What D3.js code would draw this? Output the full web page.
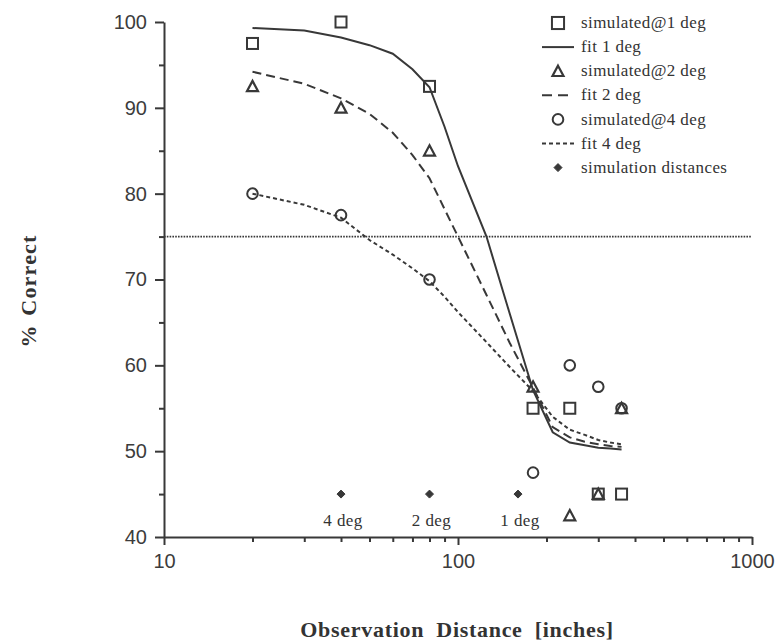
<!DOCTYPE html>
<html><head><meta charset="utf-8">
<script src="https://cdn.jsdelivr.net/npm/d3@7"></script>
<style>body{margin:0;background:#fff} svg{display:block}</style>
</head><body><svg id="c" width="783" height="644"></svg>
<script>
// ---- data ----
const distances = [20, 40, 80, 180, 240, 300, 360];
const sim1 = [97.5, 100, 92.5, 55, 55, 45, 45];
const sim2 = [92.5, 90, 85, 57.5, 42.5, 45, 55];
const sim4 = [80, 77.5, 70, 47.5, 60, 57.5, 55];
const fitX = [20, 30, 40, 50, 60, 70, 80, 90, 100, 125, 150, 180, 210, 240, 270, 300, 330, 360];
const fit1 = [99.3, 99.0, 98.2, 97.3, 96.3, 94.5, 92.4, 87.8, 83.2, 75.0, 66.0, 57.1, 52.2, 51.0, 50.7, 50.4, 50.3, 50.2];
const fit2 = [94.2, 92.8, 91.1, 89.3, 87.1, 84.5, 81.8, 78.2, 75.0, 68.2, 62.6, 57.4, 52.8, 51.6, 51.1, 50.8, 50.6, 50.5];
const fit4 = [80.0, 78.7, 77.2, 74.6, 72.9, 71.3, 69.8, 68.0, 66.2, 62.7, 59.8, 57.0, 54.0, 52.5, 51.9, 51.3, 51.0, 50.8];
const simDistX = [40, 80, 160];
const simDistY = [45, 45, 45];
const simDistLabels = ["4 deg", "2 deg", "1 deg"];
const threshold = 75;
const xTicksMajor = [10, 100, 1000];
const xTicksMinor = [20, 30, 40, 50, 60, 70, 80, 90, 200, 300, 400, 500, 600, 700, 800, 900];
const yTicksMajor = [40, 50, 60, 70, 80, 90, 100];
const yTicksMinor = [45, 55, 65, 75, 85, 95];
const legendLabels = ["simulated@1 deg", "fit 1 deg", "simulated@2 deg", "fit 2 deg", "simulated@4 deg", "fit 4 deg", "simulation distances"];
const legendKinds = ["square", "solid", "triangle", "dashed", "circle", "dotted", "diamond"];
const xTitle = "Observation Distance [inches]";
const yTitle = "% Correct";

// ---- drawing ----
const INK = "#383838";
const svg = d3.select("#c");
const x = d3.scaleLog().domain([10, 1000]).range([164, 752]);
const y = d3.scaleLinear().domain([40, 100]).range([537, 22]);

const dashes = {solid: null, dashed: "9,5", dotted: "4,3"};

function styleAxis(g) {
  g.selectAll("path.domain").attr("stroke", INK).attr("stroke-width", 2);
  g.selectAll(".tick line").attr("stroke", INK).attr("stroke-width", 2);
  g.selectAll(".tick text").attr("fill", "#3c3c3c").attr("font-family", "'Liberation Sans', Arial, sans-serif").attr("font-size", 20);
}

// threshold line
svg.append("line")
  .attr("x1", x(10)).attr("x2", x(1000))
  .attr("y1", y(threshold)).attr("y2", y(threshold))
  .attr("stroke", INK).attr("stroke-width", 1.6).attr("stroke-dasharray", "1.6,1.2");

// axes
const gx = svg.append("g").attr("transform", `translate(0,${y(40)})`)
  .call(d3.axisBottom(x).tickValues(xTicksMajor).tickSize(8).tickPadding(9).tickSizeOuter(0).tickFormat(d3.format("d")));
styleAxis(gx);
const gxm = svg.append("g").attr("transform", `translate(0,${y(40)})`)
  .call(d3.axisBottom(x).tickValues(xTicksMinor).tickSize(5).tickFormat(""));
gxm.select("path.domain").remove(); styleAxis(gxm);

const gy = svg.append("g").attr("transform", `translate(${x(10)},0)`)
  .call(d3.axisLeft(y).tickValues(yTicksMajor).tickSize(9).tickPadding(8).tickSizeOuter(0));
styleAxis(gy);
const gym = svg.append("g").attr("transform", `translate(${x(10)},0)`)
  .call(d3.axisLeft(y).tickValues(yTicksMinor).tickSize(5).tickFormat(""));
gym.select("path.domain").remove(); styleAxis(gym);

// fit lines
const line = d3.line().x(d => x(d[0])).y(d => y(d[1]));
[[fit1, "solid"], [fit2, "dashed"], [fit4, "dotted"]].forEach(([vals, kind]) => {
  svg.append("path").datum(fitX.map((d, i) => [d, vals[i]]))
    .attr("d", line).attr("fill", "none").attr("stroke", INK).attr("stroke-width", 2)
    .attr("stroke-dasharray", dashes[kind]);
});

// markers
function marker(g, kind, cx, cy, s) {
  s = s || 1;
  if (kind === "square") {
    g.append("rect").attr("x", cx - 5.5 * s).attr("y", cy - 5.5 * s).attr("width", 11 * s).attr("height", 11 * s)
      .attr("fill", "none").attr("stroke", INK).attr("stroke-width", 2);
  } else if (kind === "triangle") {
    g.append("path").attr("d", `M${cx},${cy - 5.5 * s}L${cx + 5.5 * s},${cy + 4.8 * s}L${cx - 5.5 * s},${cy + 4.8 * s}Z`)
      .attr("fill", "none").attr("stroke", INK).attr("stroke-width", 2.2).attr("stroke-linejoin", "miter");
  } else if (kind === "circle") {
    g.append("circle").attr("cx", cx).attr("cy", cy).attr("r", 5.3 * s)
      .attr("fill", "none").attr("stroke", INK).attr("stroke-width", 2);
  } else if (kind === "diamond") {
    g.append("path").attr("d", `M${cx},${cy - 4}L${cx + 4},${cy}L${cx},${cy + 4}L${cx - 4},${cy}Z`)
      .attr("fill", INK).attr("stroke", INK).attr("stroke-width", 1);
  }
}
const gm = svg.append("g");
distances.forEach((d, i) => marker(gm, "square", x(d), y(sim1[i])));
distances.forEach((d, i) => marker(gm, "triangle", x(d), y(sim2[i])));
distances.forEach((d, i) => marker(gm, "circle", x(d), y(sim4[i])));
simDistX.forEach((d, i) => {
  marker(gm, "diamond", x(d), y(simDistY[i]));
  gm.append("text").attr("x", x(d) + 2).attr("y", y(simDistY[i]) + 32)
    .attr("text-anchor", "middle").attr("font-family", "'Liberation Serif', 'Times New Roman', serif")
    .attr("font-size", 17).attr("letter-spacing", 0.4).attr("fill", "#333").text(simDistLabels[i]);
});

// legend
const lg = svg.append("g");
legendLabels.forEach((lab, i) => {
  const cy = 23 + i * 24.1;
  const k = legendKinds[i];
  if (dashes.hasOwnProperty(k)) {
    lg.append("line").attr("x1", 542).attr("x2", 574).attr("y1", cy).attr("y2", cy)
      .attr("stroke", INK).attr("stroke-width", 2).attr("stroke-dasharray", k === "dashed" ? "10,6" : dashes[k]);
  } else {
    marker(lg, k, 558, cy, k === "square" ? 1.1 : 1);
  }
  lg.append("text").attr("x", 581).attr("y", cy).attr("dy", "0.3em")
    .attr("font-family", "'Liberation Serif', 'Times New Roman', serif").attr("font-size", 17)
    .attr("letter-spacing", 0.4).attr("fill", "#333").text(lab);
});

// titles
svg.append("text").attr("x", 457).attr("y", 637).attr("text-anchor", "middle")
  .attr("font-family", "'Liberation Serif', 'Times New Roman', serif").attr("font-weight", "bold")
  .attr("font-size", 22).attr("word-spacing", 6).attr("letter-spacing", 0.7).attr("fill", "#333").text(xTitle);
svg.append("text").attr("transform", "translate(36,291) rotate(-90)").attr("text-anchor", "middle")
  .attr("font-family", "'Liberation Serif', 'Times New Roman', serif").attr("font-weight", "bold")
  .attr("font-size", 22).attr("word-spacing", 2).attr("letter-spacing", 1.2).attr("fill", "#333").text(yTitle);
</script></body></html>
